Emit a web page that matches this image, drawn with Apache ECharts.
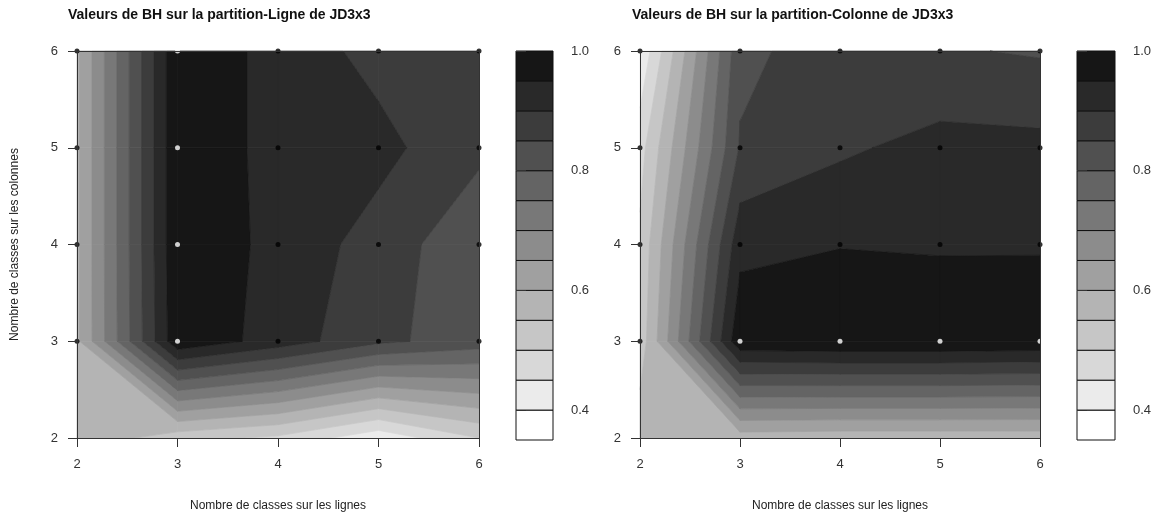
<!DOCTYPE html>
<html><head><meta charset="utf-8">
<script src="https://cdn.jsdelivr.net/npm/echarts@6/dist/echarts.min.js"></script>
<style>html,body{margin:0;padding:0;background:#fff}#c{width:1168px;height:517px}</style>
</head><body><div id="c"></div>
<script>
// ---- data ----
const xValues = [2, 3, 4, 5, 6];          // Nombre de classes sur les lignes
const yValues = [2, 3, 4, 5, 6];          // Nombre de classes sur les colonnes
const levels = [0.35, 0.40, 0.45, 0.50, 0.55, 0.60, 0.65, 0.70, 0.75, 0.80, 0.85, 0.90, 0.95, 1.00];
const legendTicks = [0.4, 0.6, 0.8, 1.0];
const pointRows = [3, 4, 5, 6];
const titles = ['Valeurs de BH sur la partition-Ligne de JD3x3', 'Valeurs de BH sur la partition-Colonne de JD3x3'];
const xTitle = 'Nombre de classes sur les lignes';
const yTitle = 'Nombre de classes sur les colonnes';
// rows: y = 2..6 ; columns: x = 2..6
const bhLigne = [
  [0.590, 0.520, 0.490, 0.415, 0.500],
  [0.590, 0.990, 0.928, 0.861, 0.826],
  [0.590, 0.995, 0.933, 0.880, 0.810],
  [0.590, 0.995, 0.930, 0.915, 0.862],
  [0.590, 0.995, 0.930, 0.884, 0.870]
];
const bhColonne = [
  [0.580, 0.575, 0.570, 0.570, 0.570],
  [0.520, 0.990, 0.995, 0.995, 0.990],
  [0.510, 0.934, 0.948, 0.944, 0.945],
  [0.480, 0.855, 0.892, 0.917, 0.914],
  [0.407, 0.837, 0.878, 0.855, 0.845]
];
// ---- style ----
const grays = ['#ffffff','#ebebeb','#d8d8d8','#c6c6c6','#b4b4b4','#a0a0a0','#8c8c8c','#787878','#646464','#505050','#3c3c3c','#292929','#161616'];
const FONT = 'Liberation Sans, Arial, sans-serif';
const TXT = '#222';

function clip(poly, above, lev) {
  const out = [];
  for (let i = 0; i < poly.length; i++) {
    const P = poly[i], Q = poly[(i + 1) % poly.length];
    const pin = above ? P[2] >= lev : P[2] <= lev;
    const qin = above ? Q[2] >= lev : Q[2] <= lev;
    if (pin) out.push(P);
    if (pin !== qin) {
      const t = (lev - P[2]) / (Q[2] - P[2]);
      out.push([P[0] + t * (Q[0] - P[0]), P[1] + t * (Q[1] - P[1]), lev]);
    }
  }
  return out;
}
function cells() {
  const c = [];
  for (let j = 0; j < yValues.length - 1; j++)
    for (let i = 0; i < xValues.length - 1; i++) c.push([xValues[i], yValues[j], i, j]);
  return c;
}
function contourSeries(grid, idx) {
  return {
    type: 'custom', xAxisIndex: idx, yAxisIndex: idx, z: 1, silent: true,
    data: cells(),
    encode: { x: 0, y: 1 },
    renderItem: function (params, api) {
      const i = api.value(2), j = api.value(3);
      const corners = [
        [xValues[i], yValues[j], grid[j][i]],
        [xValues[i + 1], yValues[j], grid[j][i + 1]],
        [xValues[i + 1], yValues[j + 1], grid[j + 1][i + 1]],
        [xValues[i], yValues[j + 1], grid[j + 1][i]]
      ];
      const children = [];
      for (let k = 0; k < levels.length - 1; k++) {
        const p = clip(clip(corners, true, levels[k]), false, levels[k + 1]);
        if (p.length >= 3) {
          children.push({
            type: 'polygon',
            shape: { points: p.map(q => api.coord([q[0], q[1]])) },
            style: { fill: grays[k], stroke: grays[k], lineWidth: 0.7 }
          });
        }
      }
      return { type: 'group', children: children };
    }
  };
}
function pointSeries(grid, idx) {
  const data = [];
  pointRows.forEach(y => {
    const j = yValues.indexOf(y);
    xValues.forEach((x, i) => {
      const v = grid[j][i];
      data.push({ value: [x, y], itemStyle: { color: v >= levels[levels.length - 2] ? '#ffffff' : '#000000' } });
    });
  });
  return { type: 'scatter', xAxisIndex: idx, yAxisIndex: idx, z: 5, symbolSize: 5, silent: true, data: data };
}
function legendSeries(idx) {
  const data = [];
  for (let k = 0; k < levels.length - 1; k++) data.push([0, levels[k], k]);
  return {
    type: 'custom', xAxisIndex: idx, yAxisIndex: idx, silent: true, data: data,
    encode: { x: 0, y: 1 },
    renderItem: function (params, api) {
      const k = api.value(2);
      const a = api.coord([0, levels[k + 1]]);
      const b = api.coord([1, levels[k]]);
      return { type: 'rect', shape: { x: a[0], y: a[1], width: b[0] - a[0], height: b[1] - a[1] },
        style: { fill: grays[k], stroke: '#111', lineWidth: 1 } };
    }
  };
}
function plotX(g, name) {
  return { type: 'value', gridIndex: g, min: 2, max: 6, interval: 1, z: 10,
    name: name, nameLocation: 'middle', nameGap: 62,
    nameTextStyle: { fontSize: 12, color: TXT, fontFamily: FONT },
    axisLine: { show: true, lineStyle: { color: '#333', width: 1 } },
    axisTick: { show: true, length: 9, lineStyle: { color: '#333' } },
    axisLabel: { margin: 20, fontSize: 13, color: '#333', fontFamily: FONT },
    splitLine: { show: false } };
}
function plotY(g, name) {
  return { type: 'value', gridIndex: g, min: 2, max: 6, interval: 1, z: 10,
    name: name, nameLocation: 'middle', nameGap: 56, nameRotate: 90,
    nameTextStyle: { fontSize: 12, color: TXT, fontFamily: FONT },
    axisLine: { show: true, lineStyle: { color: '#333', width: 1 } },
    axisTick: { show: true, length: 9, lineStyle: { color: '#333' } },
    axisLabel: { margin: 19, fontSize: 13, color: '#333', fontFamily: FONT },
    splitLine: { show: false } };
}
function boxAxis(g, pos) {
  return { type: 'value', gridIndex: g, min: 2, max: 6, interval: 1, position: pos, z: 10,
    axisLine: { show: true, onZero: false, lineStyle: { color: '#333', width: 1 } },
    axisTick: { show: false }, axisLabel: { show: false }, splitLine: { show: false } };
}
function legX(g) { return { type: 'value', gridIndex: g, min: 0, max: 1, show: false }; }
function legY(g) {
  return { type: 'value', gridIndex: g, min: levels[0], max: levels[levels.length - 1], position: 'right', z: 10,
    axisLine: { show: false },
    axisTick: { show: true, length: 10, customValues: legendTicks, lineStyle: { color: '#333' } },
    axisLabel: { customValues: legendTicks, margin: 18, fontSize: 13, color: '#333', fontFamily: FONT, formatter: v => v.toFixed(1) },
    splitLine: { show: false } };
}
const chart = echarts.init(document.getElementById('c'), null, { renderer: 'canvas' });
chart.setOption({
  animation: false,
  backgroundColor: '#ffffff',
  title: [
    { text: titles[0], left: 68, top: 8, padding: 0, textStyle: { fontSize: 14, fontWeight: 'bold', color: '#111', fontFamily: FONT } },
    { text: titles[1], left: 632, top: 8, padding: 0, textStyle: { fontSize: 14, fontWeight: 'bold', color: '#111', fontFamily: FONT } }
  ],
  grid: [
    { left: 77, top: 51, width: 402, height: 389 },
    { left: 640, top: 51, width: 400, height: 389 },
    { left: 516, top: 51, width: 37, height: 389 },
    { left: 1077, top: 51, width: 38, height: 389 }
  ],
  xAxis: [plotX(0, xTitle), plotX(1, xTitle), legX(2), legX(3), boxAxis(0, 'top'), boxAxis(1, 'top')],
  yAxis: [plotY(0, yTitle), plotY(1, ''), legY(2), legY(3), boxAxis(0, 'right'), boxAxis(1, 'right')],
  series: [
    contourSeries(bhLigne, 0), contourSeries(bhColonne, 1),
    pointSeries(bhLigne, 0), pointSeries(bhColonne, 1),
    legendSeries(2), legendSeries(3)
  ]
});
</script></body></html>
